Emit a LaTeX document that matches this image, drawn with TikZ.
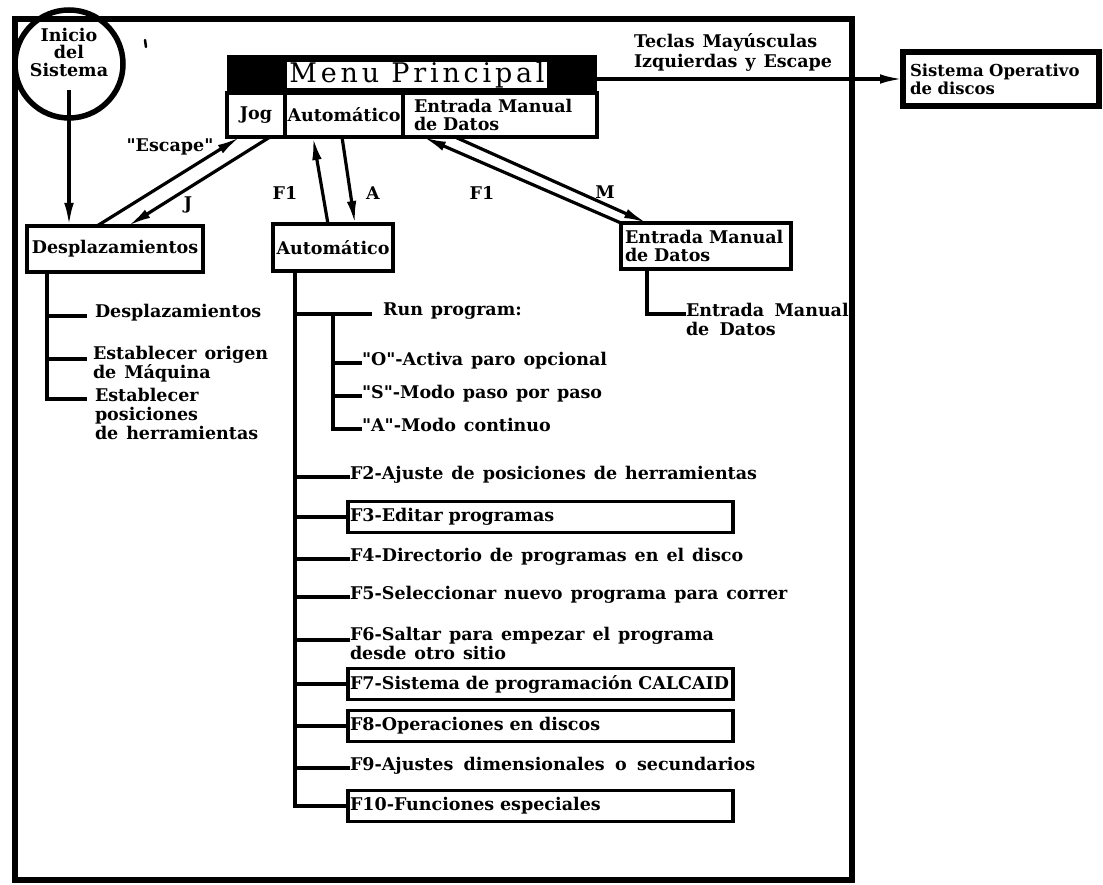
\documentclass[tikz,border=0pt]{standalone}
\usepackage{fontspec}
\setmainfont{DejaVu Serif}[Ligatures=TeXOff, WordSpace=1.9]
\newfontfamily\titlefont{DejaVu Serif}[LetterSpace=14]
\newfontfamily\tightfont{DejaVu Serif}[Ligatures=TeXOff, WordSpace=1.3]
\usetikzlibrary{arrows.meta}
\newcommand\lbltxt{\bfseries\fontsize{17.5}{18}\selectfont}
\begin{document}
\begin{tikzpicture}[x=1pt,y=-1pt,
  every node/.style={inner sep=0pt, outer sep=0pt, font=\lbltxt},
  frame/.style={line width=6pt},
  conn/.style={line width=3.2pt},
  arr/.style={conn, -{Latex[length=23pt,width=9.5pt]}},
  box/.style={draw, line width=3.2pt, anchor=north west},
  cell/.style={draw, line width=3.2pt, anchor=north west, minimum height=44pt},
  item/.style={anchor=base west, align=left},
  fbox/.style={draw, line width=3.2pt, anchor=west, minimum height=31pt,
               text width=381pt, inner xsep=2pt, align=left},
]
\useasboundingbox (0,0) rectangle (1103,885);

% outer frame of the main menu system
\draw[frame] (15,19) rectangle (852,880);

% start circle
\node[circle, draw, line width=5.5pt, minimum size=108pt] (inicio) at (69,64) {};
\node[align=center, font=\bfseries\fontsize{17.5}{17.5}\selectfont] (iniciotxt)
  at ([yshift=12pt]inicio.center) {Inicio\\del\\Sistema};
\draw[line width=2.5pt, line cap=round] (145,40) -- (146,47);

% main menu bar
\node[fill=black, anchor=north west, minimum width=370pt, minimum height=38pt] (menubar) at (227,55) {};
\node[fill=white, anchor=base, minimum width=260pt, text height=21pt, text depth=5pt,
      font=\titlefont\fontsize{27}{27}\selectfont] (menutitle) at (417,83) {Menu Principal};
\node[cell, minimum width=58pt] (jog) at (227,93) {Jog};
\node[cell, minimum width=118pt] (autocell) at (285,93) {Automático};
\node[cell, text width=172pt, inner xsep=11pt, align=left] (emdcell) at (403,93) {Entrada Manual\\de Datos};

% exit to the disk operating system
\node[anchor=west, align=left, font=\bfseries\fontsize{17.5}{20}\selectfont] (teclas) at (634,52)
  {Teclas Mayúsculas\\Izquierdas y Escape};
\node[draw, line width=6pt, anchor=north west, minimum width=196pt, minimum height=54pt,
      text width=182pt, inner xsep=7pt, align=left,
      font=\bfseries\fontsize{16.5}{18}\selectfont] (sod) at (903,52) {Sistema Operativo\\de discos};
\draw[arr] (menubar.east |- sod.west) -- (sod.west);

% second level boxes
\node[box, minimum width=176pt, minimum height=46pt] (desp) at (27,226) {Desplazamientos};
\node[box, minimum width=120pt, minimum height=47pt] (autobox) at (273,224) {Automático};
\node[box, minimum width=170pt, minimum height=46pt, text width=162pt, inner xsep=4pt, align=left]
  (emdbox) at (621,223) {Entrada Manual\\de Datos};

% transitions
\draw[arr] ([yshift=-26pt]inicio.center) -- (inicio.center |- desp.north);
\draw[arr] ([xshift=70pt]desp.north west) -- ([xshift=13pt]jog.south west);
\draw[arr] ([xshift=43pt]jog.south west) -- ([xshift=101pt]desp.north west);
\draw[arr] ([xshift=55pt]autobox.north west) -- ([xshift=28pt]autocell.south west);
\draw[arr] ([xshift=57pt]autocell.south west) -- ([xshift=82pt]autobox.north west);
\draw[arr] (emdbox.north west) -- ([xshift=20pt]emdcell.south west);
\draw[arr] ([xshift=52pt]emdcell.south west) -- ([xshift=26pt]emdbox.north west);

\node (lesc) at (170,147) {"Escape"};
\node (lj) at (188,205) {J};
\node (lf1a) at (285,193) {F1};
\node (la) at (373,193) {A};
\node (lf1b) at (482,193) {F1};
\node (lm) at (605,192) {M};

% jog submenu (multi-line items sit on the baseline of their last line)
\coordinate (dtrunk) at ([xshift=20pt]desp.south west);
\node[item] (d1) at (95,318) {Desplazamientos};
\node[item, font=\bfseries\fontsize{17.5}{17}\selectfont] (d2) at (93,378) {Establecer origen\\de Máquina};
\node[item, font=\bfseries\fontsize{17.5}{19}\selectfont] (d3) at (95,439) {Establecer\\posiciones\\de herramientas};
\coordinate (d1b) at ([xshift=-8pt, yshift=2pt]d1.base west);
\coordinate (d2b) at ([xshift=-6pt, yshift=19pt]d2.base west);
\coordinate (d3b) at ([xshift=-8pt, yshift=40pt]d3.base west);
\draw[conn] (dtrunk) |- (d3b);
\draw[conn] (dtrunk |- d1b) -- (d1b);
\draw[conn] (dtrunk |- d2b) -- (d2b);

% automatic submenu
\coordinate (atrunk) at ([xshift=22pt]autobox.south west);
\node[item] (run) at (383,316) {Run program:};
\node[item] (ropt) at (362,365) {"O"-Activa paro opcional};
\node[item] (rstep) at (362,398) {"S"-Modo paso por paso};
\node[item] (rcont) at (362,431) {"A"-Modo continuo};
\coordinate (runb) at ([xshift=-11pt, yshift=2pt]run.base west);
\coordinate (strunk) at ([xshift=38pt]atrunk |- runb);
\coordinate (roptb) at ([yshift=2pt]ropt.base west);
\coordinate (rstepb) at ([yshift=2pt]rstep.base west);
\coordinate (rcontb) at ([yshift=2pt]rcont.base west);
\draw[conn] (atrunk |- runb) -- (runb);
\draw[conn] (strunk) |- (rcontb);
\draw[conn] (strunk |- roptb) -- (roptb);
\draw[conn] (strunk |- rstepb) -- (rstepb);

\node[item] (f2) at (350,479) {F2-Ajuste de posiciones de herramientas};
\node[fbox] (f3) at (348,517) {F3-Editar programas};
\node[item] (f4) at (350,561) {F4-Directorio de programas en el disco};
\node[item] (f5) at (350,599) {F5-Seleccionar nuevo programa para correr};
\node[item, font=\bfseries\fontsize{17.5}{17}\selectfont] (f6) at (350,659) {F6-Saltar para empezar el programa\\desde otro sitio};
\node[fbox, font=\tightfont\bfseries\fontsize{17.5}{18}\selectfont] (f7) at (348,684) {F7-Sistema de programación CALCAID};
\node[fbox] (f8) at (348,726) {F8-Operaciones en discos};
\node[item] (f9) at (350,770) {F9-Ajustes dimensionales o secundarios};
\node[fbox] (f10) at (348,806) {F10-Funciones especiales};

\coordinate (f2b) at ([yshift=2pt]f2.base west);
\coordinate (f4b) at ([yshift=2pt]f4.base west);
\coordinate (f5b) at ([yshift=2pt]f5.base west);
\coordinate (f6b) at ([yshift=19pt]f6.base west);
\coordinate (f9b) at ([yshift=2pt]f9.base west);
\draw[conn] (atrunk) |- (f10.west);
\foreach \n in {f2b,f4b,f5b,f6b,f9b} \draw[conn] (atrunk |- \n) -- (\n);
\foreach \n in {f3,f7,f8} \draw[conn] (atrunk |- \n.west) -- (\n.west);

% manual data entry submenu
\coordinate (etrunk) at ([xshift=26pt]emdbox.south west);
\node[item, font=\bfseries\fontsize{17.5}{19}\selectfont] (emdi) at (686,335) {Entrada Manual\\de Datos};
\coordinate (emdib) at ([yshift=21pt]emdi.base west);
\draw[conn] (etrunk) |- (emdib);
\end{tikzpicture}
\end{document}
